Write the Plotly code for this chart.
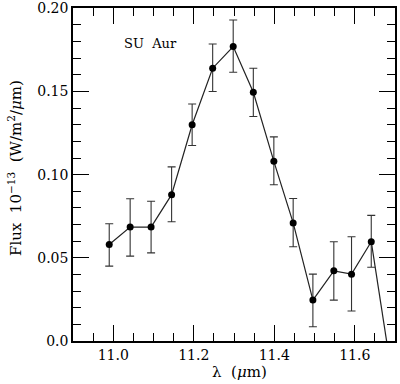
import plotly.graph_objects as go

# data
wavelength = [10.99, 11.042, 11.094, 11.145, 11.196, 11.247, 11.298, 11.348, 11.399, 11.447, 11.496, 11.548, 11.592, 11.641]
flux = [0.058, 0.0685, 0.0685, 0.088, 0.130, 0.164, 0.177, 0.1495, 0.108, 0.071, 0.0246, 0.0422, 0.0402, 0.0597]
err_plus = [0.0125, 0.017, 0.0155, 0.0167, 0.0125, 0.0146, 0.016, 0.0145, 0.0147, 0.0147, 0.0156, 0.0175, 0.0225, 0.0158]
err_minus = [0.013, 0.0175, 0.0155, 0.0163, 0.0125, 0.014, 0.0154, 0.0145, 0.0141, 0.0143, 0.016, 0.0176, 0.0222, 0.0154]
# line continues below the plot after the last point
tail_x = [11.641, 11.69]
tail_y = [0.0597, -0.017]

x_ticks = [11.0, 11.2, 11.4, 11.6]
x_labels = ["11.0", "11.2", "11.4", "11.6"]
y_ticks = [0.0, 0.05, 0.10, 0.15, 0.20]
y_labels = ["0.0", "0.05", "0.10", "0.15", "0.20"]

FONT = "DejaVu Serif"

fig = go.Figure()
fig.add_trace(go.Scatter(x=tail_x, y=tail_y, mode="lines",
                         line=dict(color="#222", width=1.2), showlegend=False))
fig.add_trace(go.Scatter(
    x=wavelength, y=flux, mode="lines+markers",
    line=dict(color="#222", width=1.2),
    marker=dict(color="black", size=7),
    error_y=dict(type="data", array=err_plus, arrayminus=err_minus,
                 color="#333", thickness=1.1, width=4, visible=True),
    showlegend=False))

axis_common = dict(showline=True, linecolor="black", linewidth=1.5, mirror="allticks",
                   ticks="inside", ticklen=16, tickwidth=1.2, tickcolor="black",
                   showgrid=False, zeroline=False, automargin=False,
                   tickfont=dict(family=FONT, size=14, color="black"))

fig.update_xaxes(range=[10.9, 11.7], tickvals=x_ticks, ticktext=x_labels,
                 minor=dict(dtick=0.05, ticks="inside", ticklen=8, tickwidth=1.2, tickcolor="black"),
                 **axis_common)
fig.update_yaxes(range=[0, 0.2002], tickvals=y_ticks, ticktext=y_labels,
                 minor=dict(dtick=0.01, ticks="inside", ticklen=8, tickwidth=1.2, tickcolor="black"),
                 **axis_common)

fig.add_annotation(x=11.022, y=0.179, xref="x", yref="y", text="SU  Aur", showarrow=False,
                   xanchor="left", yanchor="middle",
                   font=dict(family=FONT, size=13, color="black"))
fig.add_annotation(x=(239 - 73) / 322, y=-(372 - 341) / 333, xref="paper", yref="paper",
                   text="λ  (<i>μ</i>m)",
                   showarrow=False, xanchor="center", yanchor="middle",
                   font=dict(family=FONT, size=15, color="black"))
fig.add_annotation(x=(15 - 73) / 322, y=(341 - 168) / 333, xref="paper", yref="paper",
                   text="Flux  10<sup>−13</sup>  (W/m<sup>2</sup>/<i>μ</i>m)",
                   showarrow=False, textangle=-90, xanchor="center", yanchor="middle",
                   font=dict(family=FONT, size=15, color="black"))

fig.update_layout(width=400, height=384, margin=dict(l=73, r=5, t=8, b=43),
                  plot_bgcolor="white", paper_bgcolor="white")

fig.write_html("out.html", config={"displayModeBar": False},
               post_script="document.body.style.margin='0';")
